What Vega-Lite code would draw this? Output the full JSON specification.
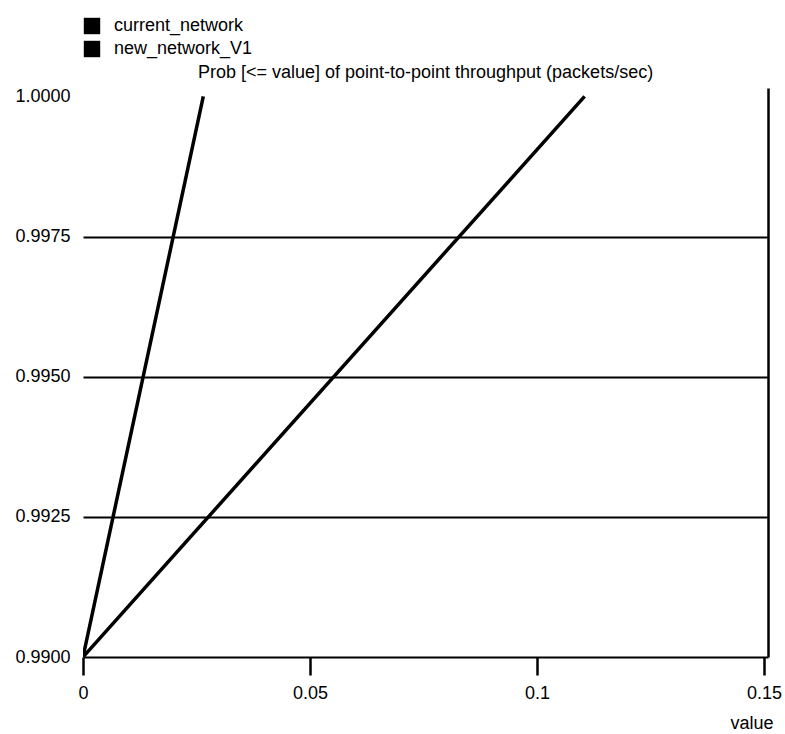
{
  "$schema": "https://vega.github.io/schema/vega-lite/v6.json",
  "autosize": {"type": "none"},
  "padding": {"left": 83, "top": 88, "right": 17, "bottom": 77},
  "width": 685,
  "height": 569,
  "background": "white",
  "config": {
    "view": {"stroke": null},
    "font": "Liberation Sans",
    "axis": {"labelFont": "Liberation Sans", "titleFont": "Liberation Sans", "labelColor": "black", "titleColor": "black"}
  },
  "title": {
    "text": "Prob [<= value] of point-to-point throughput (packets/sec)",
    "font": "Liberation Sans",
    "fontSize": 18,
    "fontWeight": "normal",
    "color": "black",
    "anchor": "middle",
    "offset": 0,
    "dy": 65
  },
  "data": {
    "values": [
      {"series": "current_network", "value": 0, "prob": 0.99},
      {"series": "current_network", "value": 0.0265, "prob": 1.0},
      {"series": "new_network_V1", "value": 0, "prob": 0.99},
      {"series": "new_network_V1", "value": 0.1105, "prob": 1.0}
    ]
  },
  "layer": [
    {
      "mark": {"type": "line", "strokeWidth": 3.5, "clip": true},
      "encoding": {
        "x": {
          "field": "value", "type": "quantitative",
          "scale": {"domain": [0, 0.1509], "nice": false, "zero": false},
          "axis": {
            "values": [0, 0.05, 0.1, 0.15],
            "format": "~g",
            "grid": false,
            "domainColor": "black", "domainWidth": 2,
            "tickColor": "black", "tickWidth": 2.5, "tickSize": 18,
            "labelFontSize": 18, "labelPadding": 9,
            "labelFlush": false,
            "title": "value", "titleFontSize": 18, "titleFontWeight": "normal",
            "titleAnchor": "end", "titleAlign": "right", "titleBaseline": "middle",
            "titleX": 690, "titleY": 66
          }
        },
        "y": {
          "field": "prob", "type": "quantitative",
          "scale": {"domain": [0.99, 1.00015], "nice": false, "zero": false},
          "axis": {
            "values": [0.99, 0.9925, 0.995, 0.9975, 1.0],
            "format": ".4f",
            "domain": false, "ticks": false,
            "grid": true,
            "gridColor": {"condition": {"test": "datum.value >= 0.9999 || datum.value <= 0.9901", "value": "transparent"}, "value": "black"},
            "gridWidth": 2, "gridOpacity": 1,
            "labelFontSize": 18, "labelPadding": 13,
            "labelFlush": false,
            "title": null
          }
        },
        "color": {
          "field": "series", "type": "nominal",
          "scale": {"range": ["black", "black"]},
          "legend": {
            "title": null,
            "orient": "none",
            "legendX": 0,
            "legendY": -71,
            "padding": 0,
            "symbolType": "square",
            "symbolSize": 270,
            "symbolFillColor": "black",
            "symbolStrokeWidth": 0,
            "symbolOpacity": 1,
            "labelFont": "Liberation Sans",
            "labelFontSize": 18,
            "labelColor": "black",
            "labelOffset": 13,
            "rowPadding": 5
          }
        }
      }
    },
    {
      "mark": {"type": "line", "strokeOpacity": 0},
      "encoding": {
        "x": {"field": "value", "type": "quantitative"},
        "y": {
          "field": "prob", "type": "quantitative",
          "axis": {
            "orient": "right",
            "domain": true, "domainColor": "black", "domainWidth": 2.5,
            "labels": false, "ticks": false, "grid": false, "title": null
          }
        },
        "detail": {"field": "series"}
      }
    }
  ],
  "resolve": {"axis": {"y": "independent"}}
}
